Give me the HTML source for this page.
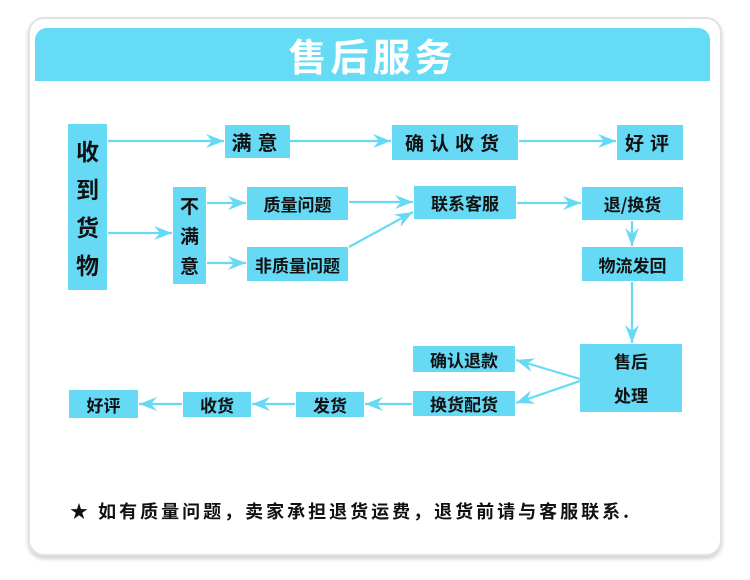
<!DOCTYPE html>
<html><head><meta charset="utf-8">
<style>
html,body{margin:0;padding:0;background:#fff;}
body{width:750px;height:580px;position:relative;overflow:hidden;font-family:"Liberation Sans","Noto Sans CJK SC",sans-serif;}
.card{position:absolute;left:28px;top:17px;width:690px;height:535px;border:2px solid #e2e2e2;border-radius:16px;box-shadow:0 3px 4px #d0d0d0;background:#fff;}
.hdr{position:absolute;left:35px;top:28px;width:675px;height:53px;background:#65dbf6;border-radius:12px 12px 0 0;color:#fff;font-weight:bold;font-size:38px;text-align:center;line-height:53px;letter-spacing:4px;}
.b{position:absolute;background:#66d9f5;color:#111;font-weight:bold;font-size:17px;display:flex;align-items:center;justify-content:center;white-space:nowrap;font-family:"Noto Sans CJK SC",sans-serif;}
svg{position:absolute;left:0;top:0;}
.foot{position:absolute;left:70px;top:498px;font-size:18px;font-weight:bold;color:#111;font-family:"Noto Sans CJK SC",sans-serif;letter-spacing:3px;white-space:nowrap;}
</style></head><body>
<div class="card"></div>
<div class="hdr" style="font-family:'Noto Sans CJK SC',sans-serif;">售后服务</div>

<div class="b" style="left:68px;top:124px;width:39px;height:166px;font-size:23px;flex-direction:column;line-height:38px;"><span>收</span><span>到</span><span>货</span><span>物</span></div>
<div class="b" style="left:225px;top:125px;width:65px;height:33px;font-size:20px;letter-spacing:6px;">满意</div>
<div class="b" style="left:392px;top:125px;width:126px;height:35px;font-size:19px;letter-spacing:6px;">确认收货</div>
<div class="b" style="left:617px;top:125px;width:66px;height:35px;font-size:19px;letter-spacing:6px;">好评</div>
<div class="b" style="left:173px;top:187px;width:33px;height:97px;font-size:19px;flex-direction:column;line-height:30px;"><span>不</span><span>满</span><span>意</span></div>
<div class="b" style="left:247px;top:187px;width:101px;height:33px;">质量问题</div>
<div class="b" style="left:247px;top:247px;width:101px;height:34px;">非质量问题</div>
<div class="b" style="left:414px;top:186px;width:102px;height:33px;">联系客服</div>
<div class="b" style="left:582px;top:187px;width:101px;height:33px;">退/换货</div>
<div class="b" style="left:582px;top:247px;width:101px;height:34px;">物流发回</div>
<div class="b" style="left:580px;top:344px;width:102px;height:68px;flex-direction:column;line-height:34px;"><span>售后</span><span>处理</span></div>
<div class="b" style="left:413px;top:346px;width:102px;height:26px;">确认退款</div>
<div class="b" style="left:413px;top:391px;width:102px;height:25px;">换货配货</div>
<div class="b" style="left:296px;top:392px;width:68px;height:25px;">发货</div>
<div class="b" style="left:183px;top:392px;width:68px;height:25px;">收货</div>
<div class="b" style="left:69px;top:390px;width:69px;height:28px;">好评</div>

<svg width="750" height="580" viewBox="0 0 750 580">
<defs>
<marker id="a" markerUnits="userSpaceOnUse" markerWidth="20" markerHeight="16" refX="18" refY="7" orient="auto">
<path d="M0,0 L18,7 L0,14 L6,7 z" fill="#66d9f5"/>
</marker>
</defs>
<g stroke="#66d9f5" stroke-width="2.2" fill="none" marker-end="url(#a)">
<line x1="108" y1="141" x2="224" y2="141"/>
<line x1="290" y1="141" x2="391" y2="141"/>
<line x1="519" y1="141" x2="616" y2="141"/>
<line x1="108" y1="233" x2="172" y2="233"/>
<line x1="207" y1="203" x2="246" y2="203"/>
<line x1="207" y1="263" x2="246" y2="263"/>
<line x1="349" y1="202" x2="413" y2="202"/>
<line x1="349" y1="247" x2="413" y2="212"/>
<line x1="517" y1="203" x2="581" y2="203"/>
<line x1="632" y1="221" x2="632" y2="246"/>
<line x1="632" y1="282" x2="632" y2="343"/>
<line x1="580" y1="379" x2="516" y2="360"/>
<line x1="580" y1="381" x2="516" y2="403"/>
<line x1="412" y1="404" x2="365" y2="404"/>
<line x1="295" y1="404" x2="252" y2="404"/>
<line x1="182" y1="404" x2="139" y2="404"/>
</g>
</svg>

<div class="foot">★ 如有质量问题，卖家承担退货运费，退货前请与客服联系.</div>
</body></html>
